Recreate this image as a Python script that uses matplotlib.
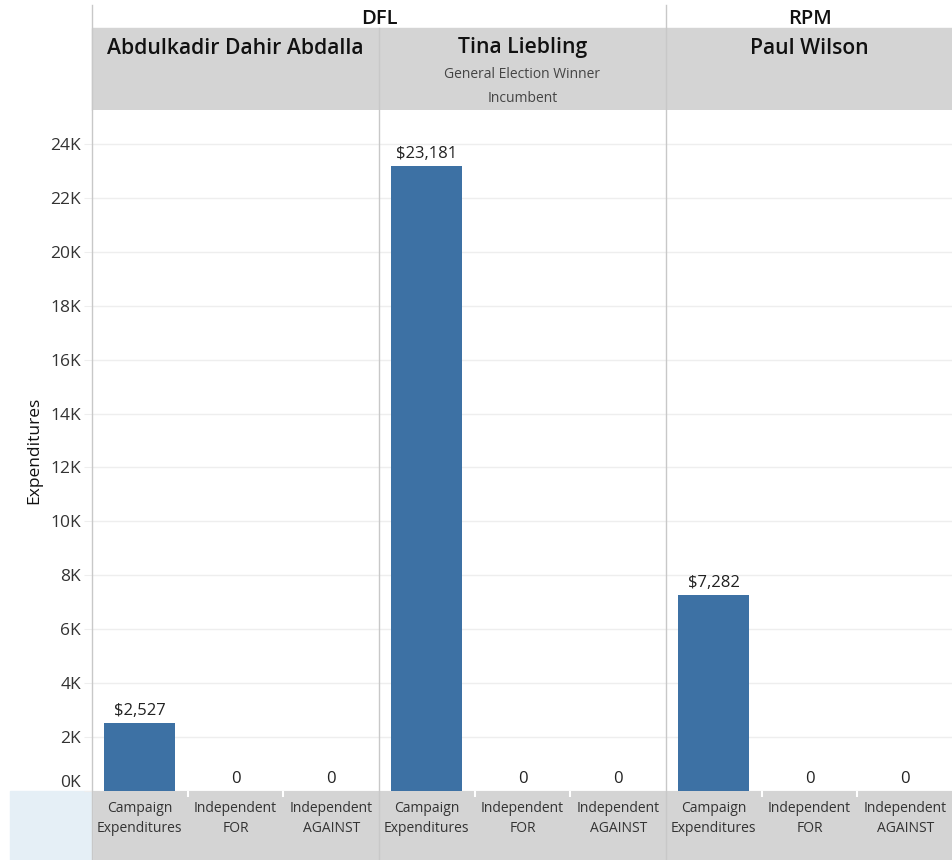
import matplotlib.pyplot as plt
from matplotlib.patches import Rectangle
from matplotlib.lines import Line2D
from matplotlib.ticker import FuncFormatter

plt.rcParams['font.family'] = ['Open Sans', 'DejaVu Sans']

# data
parties = ['DFL', 'RPM']
party_span = [2, 1]  # number of candidates under each party
candidates = ['Abdulkadir Dahir Abdalla', 'Tina Liebling', 'Paul Wilson']
notes = [[], ['General Election Winner', 'Incumbent'], []]
categories = ['Campaign\nExpenditures', 'Independent\nFOR', 'Independent\nAGAINST']
values = [
    [2527, 0, 0],
    [23181, 0, 0],
    [7282, 0, 0],
]
yticks = list(range(0, 24001, 2000))

W, H = 952, 860
BAR = '#3d71a4'
HEAD = '#d4d4d4'
SEP = '#c8c8c8'
TXT = '#333333'

def fx(px):
    return px / W

def fy(py):
    return 1 - py / H

fig = plt.figure(figsize=(W / 100, H / 100), dpi=100)

left0 = 92
panel_w = 287
plot_top, plot_bot = 110, 791
ymax = 24000 + (144 - plot_top) / ((plot_bot - 144) / 24000)

axes = []
for i, cand in enumerate(candidates):
    ax = fig.add_axes([fx(left0 + panel_w * i), fy(plot_bot),
                       panel_w / W, (plot_bot - plot_top) / H])
    x = list(range(len(categories)))
    ax.bar(x, values[i], width=0.74, color=BAR, zorder=3)
    for xi, v in zip(x, values[i]):
        lab = f'${v:,}' if v > 0 else '0'
        ax.annotate(lab, (xi, v), xytext=(0, 3), textcoords='offset points',
                    ha='center', va='bottom', fontsize=12, color='#222222')
    ax.set_xlim(-0.5, len(categories) - 0.5)
    ax.set_ylim(0, ymax)
    ax.set_yticks(yticks)
    ax.grid(axis='y', color='#eeeeee', linewidth=1, zorder=0)
    ax.set_xticks(x)
    ax.set_xticklabels(categories, fontsize=10, color=TXT, linespacing=1.45)
    ax.tick_params(axis='x', length=0, pad=7)
    ax.set_xticks([0.5, 1.5], minor=True)
    ax.tick_params(axis='x', which='minor', length=4, color='white', width=1.5)
    for s in ax.spines.values():
        s.set_visible(False)
    if i == 0:
        ax.yaxis.set_major_formatter(FuncFormatter(lambda v, p: f'{int(v / 1000)}K'))
        ax.tick_params(axis='y', length=6, color='#eeeeee', labelsize=12.5,
                       labelcolor=TXT, pad=2)
        ax.get_yticklabels()[0].set_va('bottom')
        ax.set_ylabel('Expenditures', fontsize=12.5, color='#111111', labelpad=6)
    else:
        ax.tick_params(axis='y', length=0, labelleft=False)
    axes.append(ax)

# header band and bottom band
fig.add_artist(Rectangle((fx(left0), fy(110)), fx(W - left0), (110 - 28) / H,
                         transform=fig.transFigure, color=HEAD, zorder=-1))
fig.add_artist(Rectangle((fx(left0), 0), fx(W - left0), (H - plot_bot) / H,
                         transform=fig.transFigure, color=HEAD, zorder=-1))
fig.add_artist(Rectangle((fx(10), 0), fx(left0 - 10), (H - plot_bot) / H,
                         transform=fig.transFigure, color='#e5eff6', zorder=-1))

# party labels
start = 0
for p, n in zip(parties, party_span):
    x0 = left0 + panel_w * start
    x1 = left0 + panel_w * (start + n)
    fig.text(fx((x0 + x1) / 2), fy(19), p, ha='center', va='center',
             fontsize=14.5, fontweight='semibold', color='#111111')
    start += n

# candidate names and notes
for i, cand in enumerate(candidates):
    cx = left0 + panel_w * i + panel_w / 2
    fig.text(fx(cx), fy(48), cand, ha='center', va='center',
             fontsize=15.2, fontweight='semibold', color='#111111')
    for j, note in enumerate(notes[i]):
        fig.text(fx(cx), fy(75 + 24 * j), note, ha='center', va='center',
                 fontsize=10, color='#444444')

# vertical separators
sep_tops = [5, 28, 5]
for i, t in enumerate(sep_tops):
    xp = fx(left0 + panel_w * i)
    fig.add_artist(Line2D([xp, xp], [fy(t), 0], transform=fig.transFigure,
                          color=SEP, linewidth=1, zorder=5))

fig.savefig('out.png', dpi=100)
